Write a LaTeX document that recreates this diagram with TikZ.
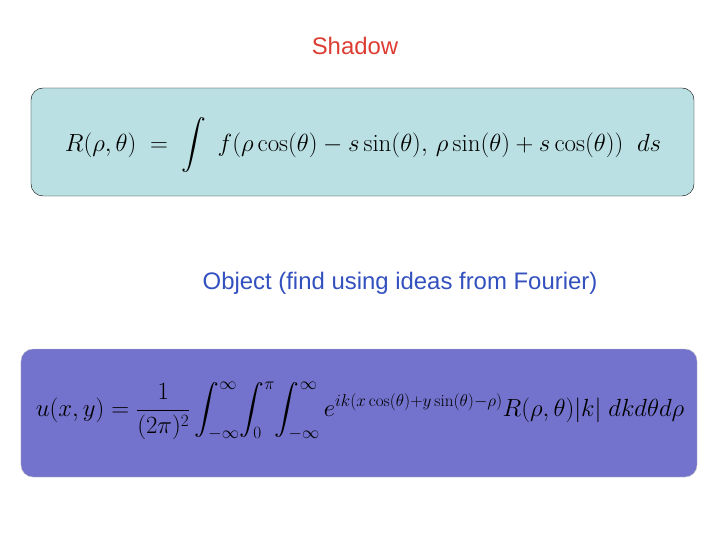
\documentclass[tikz,border=0pt]{standalone}
\usepackage{fontspec}
\setsansfont{Liberation Sans}
\usepackage{amsmath}
\usetikzlibrary{positioning}
\definecolor{shadowred}{RGB}{220,60,50}
\definecolor{objblue}{RGB}{50,80,190}
\definecolor{tealfill}{RGB}{186,224,227}
\definecolor{violetfill}{RGB}{115,115,205}
\tikzstyle{caption} = [font=\sffamily\fontsize{24}{28}\selectfont]
\tikzstyle{eqBox} = [rectangle, rounded corners=12bp, inner sep=0pt]
\begin{document}
\begin{tikzpicture}[x=1bp,y=-1bp]
        \useasboundingbox (0,0) rectangle (720,540);
        \node (shadow) [caption, text=shadowred] at (355,46) {Shadow};
        \node (radon) [eqBox, draw=black, fill=tealfill, minimum width=663bp, minimum height=108bp] at (362.5,142) {};
        \node (radoneq) at (363,145) {\fontsize{25}{30}\selectfont
        $R(\rho,\theta)\;=\;\displaystyle\int\; f(\rho\cos(\theta)-s\sin(\theta),\,\rho\sin(\theta)+s\cos(\theta))\;\;ds$};
        \node (object) [caption, text=objblue] at (400,283) {Object (find using ideas from Fourier)};
        \node (inverse) [eqBox, draw=black!25, fill=violetfill, minimum width=676bp, minimum height=128bp] at (359,413) {};
        \node (inverseeq) at (360,411) {\fontsize{24.5}{29}\selectfont
        $u(x,y)=\dfrac{1}{(2\pi)^2}\displaystyle\int_{-\infty}^{\infty}\!\int_{0}^{\pi}\!\int_{-\infty}^{\infty} e^{ik(x\cos(\theta)+y\sin(\theta)-\rho)}R(\rho,\theta)|k|\;dkd\theta d\rho$};
\end{tikzpicture}
\end{document}
